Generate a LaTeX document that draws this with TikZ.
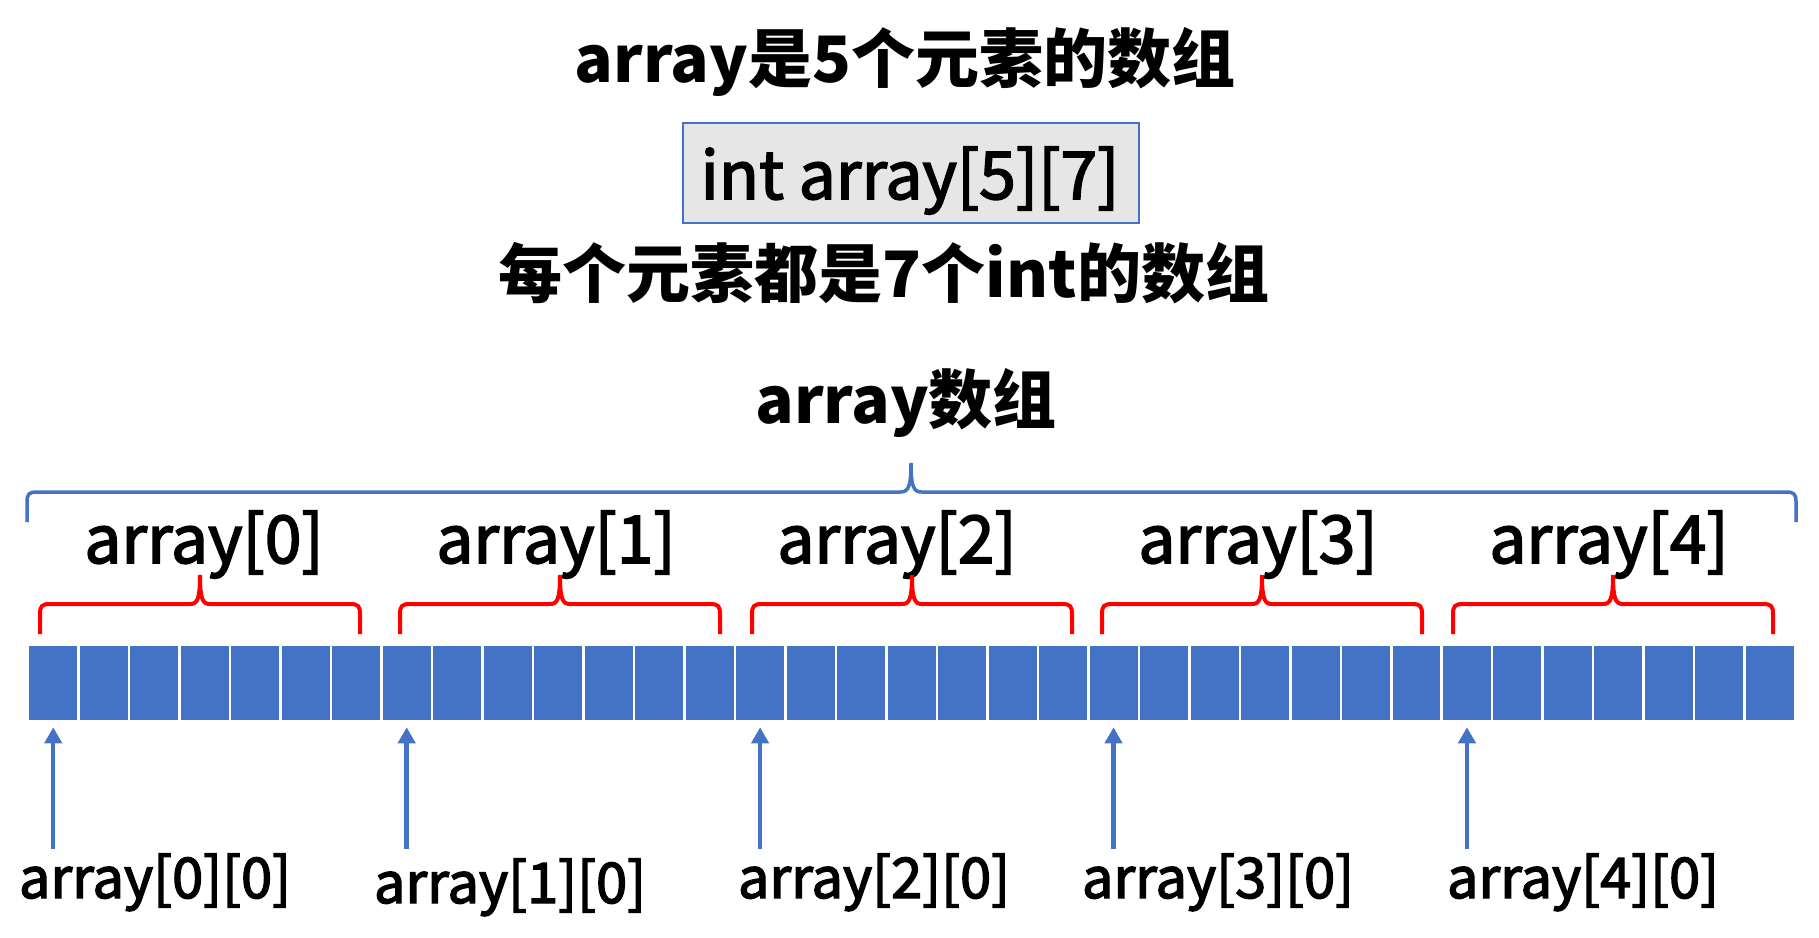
\documentclass[tikz,border=0pt]{standalone}
\usepackage{fontspec}
\setmainfont{Noto Sans CJK SC}
\newfontfamily\medfont[FakeBold=2.5]{Noto Sans CJK SC}
\usetikzlibrary{arrows.meta}
\definecolor{obl}{HTML}{4472C4}
\definecolor{rbr}{HTML}{FF0000}
\definecolor{boxgray}{HTML}{E7E6E6}
\tikzset{
  cell/.style={rectangle, fill=obl, draw=white, line width=2.5pt, minimum width=50.49pt, minimum height=76pt, inner sep=0pt},
  title/.style={anchor=base, inner sep=0pt, font=\bfseries\fontsize{64}{70}\selectfont},
  grplabel/.style={anchor=base, inner sep=0pt, font=\medfont\fontsize{66}{70}\selectfont},
  idxlabel/.style={anchor=base, inner sep=0pt, font=\medfont\fontsize{56}{62}\selectfont},
  decl/.style={rectangle, draw=obl, fill=boxgray, line width=1.5pt, minimum width=456pt, minimum height=100pt, inner sep=0pt},
  decltext/.style={anchor=base, inner sep=0pt, font=\medfont\fontsize{66}{70}\selectfont},
  redbrace/.style={draw=rbr, line width=4pt},
  bluebrace/.style={draw=obl, line width=3.5pt},
  ptr/.style={draw=obl, line width=4.5pt, -{Triangle[width=17pt,length=16pt]}, shorten >=5pt}
}
\begin{document}
\begin{tikzpicture}[x=1pt,y=-1pt]
\useasboundingbox (0,0) rectangle (1819,937);

% titles
\node[title] (t1) at (905,82) {array是5个元素的数组};
\node[decl] (box) at (911,173) {};
\node[decltext] (bt) at (910,199) {int array[5][7]};
\node[title] (t2) at (884,297) {每个元素都是7个int的数组};
\node[title] (t3) at (906,423) {array数组};

% big blue brace
\draw[bluebrace] (27,522) -- (27,502) .. controls (27,494) and (29,492) .. (37,492) -- (900,492) .. controls (908,492) and (911,488) .. (911,463) .. controls (911,488) and (914,492) .. (922,492) -- (1786,492) .. controls (1794,492) and (1796,494) .. (1796,502) -- (1796,522);

% group labels
\foreach \x/\n in {204/0,556/1,897/2,1258/3,1609/4} {
  \node[grplabel] (g\n) at (\x,563) {array[\n]};
}

% red braces
\foreach \s in {40,400,752,1102,1453} {
  \draw[redbrace] (\s,634) -- (\s,614) .. controls (\s,606) and ({\s+2},604) .. ({\s+10},604) -- ({\s+150},604) .. controls ({\s+157},604) and ({\s+160},600) .. ({\s+160},575) .. controls ({\s+160},600) and ({\s+163},604) .. ({\s+170},604) -- ({\s+310},604) .. controls ({\s+318},604) and ({\s+320},606) .. ({\s+320},614) -- ({\s+320},634);
}

% cells
\foreach \i in {0,...,34} {
  \node[cell] (c\i) at ({28+50.49*\i+25.245},683) {};
}

% pointers and labels
\foreach \n/\c/\lx/\ly in {0/0/155/898, 1/7/510/903, 2/14/874/898, 3/21/1218/898, 4/28/1583/898} {
  \coordinate (tail\n) at (c\c.center |- 0,849);
  \draw[ptr] (tail\n) -- (c\c.south);
  \node[idxlabel] (e\n) at (\lx,\ly) {array[\n][0]};
}
\end{tikzpicture}
\end{document}
